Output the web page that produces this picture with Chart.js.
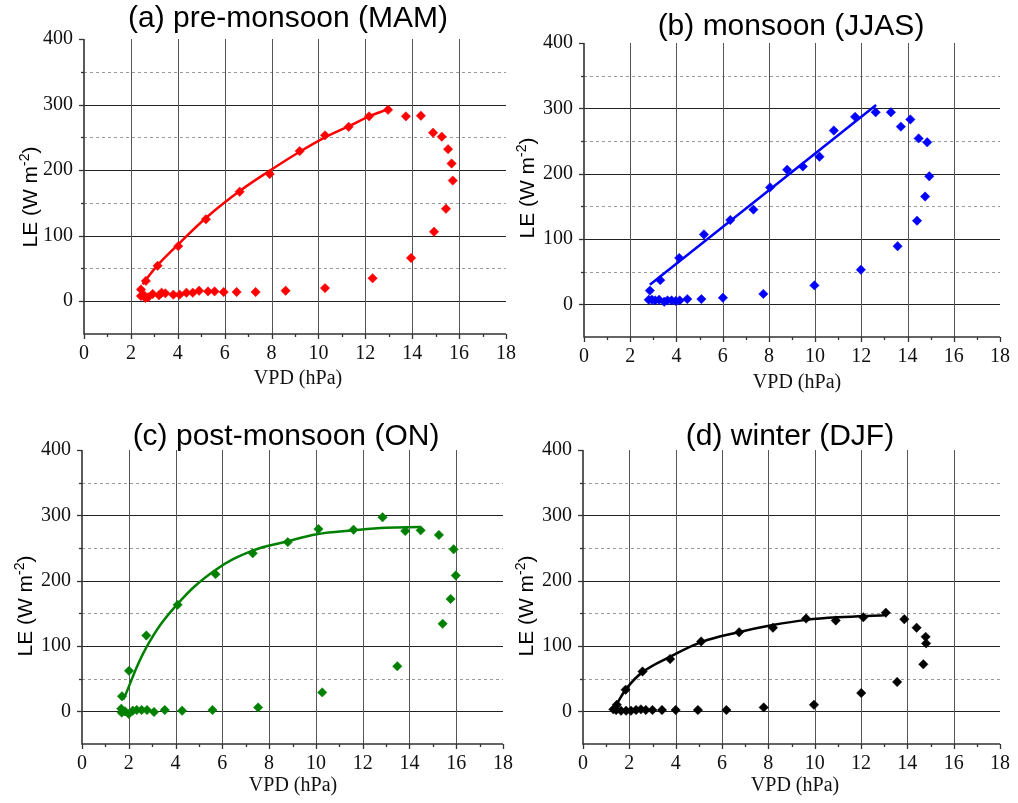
<!DOCTYPE html>
<html>
<head>
<meta charset="utf-8">
<script src="https://cdn.jsdelivr.net/npm/chart.js@4.4.0/dist/chart.umd.min.js"></script>
<style>
  html, body { margin: 0; background: #fff; }
  #wrap { position: relative; width: 1018px; height: 803px; }
  #wrap canvas { position: absolute; left: 0; top: 0; }
</style>
</head>
<body>
<div id="wrap">
  <canvas id="pa" width="1018" height="803"></canvas>
  <canvas id="pb" width="1018" height="803"></canvas>
  <canvas id="pc" width="1018" height="803"></canvas>
  <canvas id="pd" width="1018" height="803"></canvas>
</div>
<script>
// tick values
const xTicks = [0, 2, 4, 6, 8, 10, 12, 14, 16, 18];
const yTicks = [0, 100, 200, 300, 400];

// (a) pre-monsoon
const aX = [2.43, 2.43, 2.56, 2.62, 2.74, 2.93, 3.20, 3.31, 3.47, 3.81, 4.08, 4.37, 4.64, 4.91, 5.29, 5.57, 5.96, 6.51, 7.32, 8.60, 10.28, 12.31, 13.95, 14.93, 15.44, 15.73, 15.68, 15.53, 15.26, 14.89, 14.37, 13.73, 12.97, 12.16, 11.29, 10.28, 9.20, 7.92, 6.64, 5.20, 4.02, 3.14, 2.64];
const aY = [8, 18, 9, 5, 6, 11, 9, 13, 12, 10, 10, 13, 13, 16, 15, 15, 14, 14, 14, 16, 20, 35, 66, 106, 141, 184, 210, 232, 251, 257, 283, 282, 292, 282, 266, 253, 229, 194, 167, 125, 84, 54, 31];
const aFitX = [2.50, 3.14, 4.00, 5.20, 6.64, 7.92, 9.20, 10.28, 11.30, 12.16, 12.97];
const aFitY = [26, 55, 86, 127, 168, 199, 228, 250, 267, 282, 293];

// (b) monsoon
const bX = [2.80, 2.94, 3.08, 3.25, 3.47, 3.61, 3.79, 3.97, 4.14, 4.47, 5.08, 6.01, 7.76, 9.97, 11.98, 13.57, 14.41, 14.76, 14.94, 14.85, 14.48, 14.12, 13.71, 13.28, 12.62, 11.73, 10.81, 10.19, 9.47, 8.79, 8.05, 7.33, 6.33, 5.19, 4.12, 3.30, 2.85];
const bY = [7, 7, 6, 7, 4, 6, 6, 5, 6, 8, 8, 10, 16, 29, 53, 89, 128, 165, 196, 248, 254, 283, 272, 294, 294, 287, 266, 226, 211, 206, 179, 145, 129, 107, 71, 37, 21];
const bFitX = [2.85, 12.64];
const bFitY = [30, 305];

// (c) post-monsoon
const cX = [1.70, 1.68, 1.84, 2.00, 2.17, 2.34, 2.55, 2.78, 3.08, 3.54, 4.28, 5.58, 7.53, 10.27, 13.48, 15.42, 15.76, 15.98, 15.89, 15.26, 14.48, 13.82, 12.85, 11.61, 10.11, 8.80, 7.30, 5.71, 4.09, 2.75, 2.01, 1.71];
const cY = [-2, 4, 0, -4, 1, 2, 2, 2, -1, 2, 1, 2, 6, 29, 69, 134, 172, 208, 248, 270, 277, 276, 297, 278, 279, 259, 242, 210, 163, 116, 62, 23];
const cFitX = [1.77, 2.77, 4.05, 5.69, 7.29, 8.76, 10.04, 11.61, 13.00, 14.46];
const cFitY = [18, 99, 163, 216, 246, 260, 271, 277, 281, 282];

// (d) winter
const dX = [1.31, 1.43, 1.64, 1.86, 2.07, 2.29, 2.50, 2.71, 3.00, 3.41, 4.00, 4.96, 6.19, 7.80, 9.97, 12.01, 13.56, 14.69, 14.81, 14.79, 14.40, 13.87, 13.07, 12.10, 10.91, 9.63, 8.20, 6.74, 5.10, 3.76, 2.57, 1.84, 1.46];
const dY = [3, 2, 1, 1, 1, 2, 3, 2, 2, 2, 2, 2, 2, 6, 10, 28, 45, 72, 104, 114, 128, 141, 151, 144, 139, 142, 128, 121, 107, 80, 61, 33, 10];
const dFitX = [1.33, 1.86, 2.57, 3.79, 5.11, 6.71, 8.19, 9.64, 11.00, 13.00];
const dFitY = [3, 34, 60, 84, 106, 121, 132, 140, 144, 147];

const SANS = '"Liberation Sans", Arial, sans-serif';
const SERIF = '"Liberation Serif", "Times New Roman", serif';

// page layout of each panel: plot area [left, top, right, bottom] and text spots
const panels = {
  pa: { title: '(a) pre-monsoon (MAM)', color: '#ff0000', x: aX, y: aY, fx: aFitX, fy: aFitY,
        area: [84, 39, 506, 334], tPos: [288, 27], xl: [298, 379], yl: [37, 197] },
  pb: { title: '(b) monsoon (JJAS)', color: '#0000ff', x: bX, y: bY, fx: bFitX, fy: bFitY,
        area: [584, 43, 1005, 337], tPos: [791, 35], xl: [797, 383], yl: [534, 188] },
  pc: { title: '(c) post-monsoon (ON)', color: '#008000', x: cX, y: cY, fx: cFitX, fy: cFitY,
        area: [82, 450, 503, 744], tPos: [286, 445], xl: [293, 786], yl: [32, 606] },
  pd: { title: '(d) winter (DJF)', color: '#000000', x: dX, y: dY, fx: dFitX, fy: dFitY,
        area: [583, 450, 1004, 744], tPos: [790, 445], xl: [795, 786], yl: [533, 606] }
};

function pts(xs, ys) {
  return xs.map(function (v, i) { return { x: v, y: ys[i] }; });
}

function hLine(ctx, y, x1, x2) {
  y = Math.round(y) + 0.5;
  ctx.beginPath(); ctx.moveTo(x1, y); ctx.lineTo(x2, y); ctx.stroke();
}
function vLine(ctx, x, y1, y2) {
  x = Math.round(x) + 0.5;
  ctx.beginPath(); ctx.moveTo(x, y1); ctx.lineTo(x, y2); ctx.stroke();
}

// grid, axis lines, tick marks and texts
const decor = {
  id: 'decor',
  beforeDatasetsDraw: function (chart) {
    const ctx = chart.ctx, xs = chart.scales.x, ys = chart.scales.y, a = chart.chartArea;
    ctx.save();
    ctx.lineWidth = 1;
    ctx.strokeStyle = '#9a9a9a';
    ctx.setLineDash([3, 3]);
    [50, 150, 250, 350].forEach(function (v) { hLine(ctx, ys.getPixelForValue(v), a.left, a.right); });
    ctx.setLineDash([]);
    ctx.strokeStyle = '#222';
    [0, 100, 200, 300].forEach(function (v) { hLine(ctx, ys.getPixelForValue(v), a.left, a.right); });
    ctx.strokeStyle = '#555';
    [2, 4, 6, 8, 10, 12, 14, 16].forEach(function (v) { vLine(ctx, xs.getPixelForValue(v), a.top, a.bottom); });

    // axes
    ctx.strokeStyle = '#333';
    ctx.lineWidth = 1.6;
    ctx.beginPath();
    ctx.moveTo(a.left, a.top); ctx.lineTo(a.left, a.bottom); ctx.lineTo(a.right, a.bottom);
    ctx.stroke();
    ctx.lineWidth = 1.3;
    for (let v = 0; v <= 400; v += 50) {
      const py = Math.round(ys.getPixelForValue(v)) + 0.5;
      ctx.beginPath(); ctx.moveTo(a.left - (v % 100 ? 3 : 5), py); ctx.lineTo(a.left, py); ctx.stroke();
    }
    for (let v = 0; v <= 18; v += 1) {
      const px = Math.round(xs.getPixelForValue(v)) + 0.5;
      ctx.beginPath(); ctx.moveTo(px, a.bottom); ctx.lineTo(px, a.bottom + (v % 2 ? 3 : 5)); ctx.stroke();
    }
    ctx.restore();
  },
  afterDraw: function (chart) {
    const p = panels[chart.canvas.id], ctx = chart.ctx;
    ctx.save();
    ctx.fillStyle = '#000';
    ctx.textAlign = 'center';
    ctx.textBaseline = 'alphabetic';
    ctx.font = '30px ' + SANS;
    ctx.fillText(p.title, p.tPos[0], p.tPos[1]);

    ctx.fillStyle = '#111';
    ctx.textBaseline = 'middle';
    ctx.font = '20px ' + SERIF;
    ctx.fillText('VPD (hPa)', p.xl[0], p.xl[1]);

    // y title with superscript
    ctx.fillStyle = '#000';
    ctx.translate(p.yl[0], p.yl[1]);
    ctx.rotate(-Math.PI / 2);
    ctx.textAlign = 'left';
    ctx.textBaseline = 'alphabetic';
    const big = '21px ' + SANS, small = '14px ' + SANS;
    ctx.font = big;
    const w1 = ctx.measureText('LE (W m').width, w3 = ctx.measureText(')').width;
    ctx.font = small;
    const w2 = ctx.measureText('-2').width;
    let x0 = -(w1 + w2 + w3) / 2;
    ctx.font = big;
    ctx.fillText('LE (W m', x0, 0);
    ctx.font = small;
    ctx.fillText('-2', x0 + w1, -8);
    ctx.font = big;
    ctx.fillText(')', x0 + w1 + w2, 0);
    ctx.restore();
  }
};

function makeChart(id) {
  const p = panels[id];
  const yW = 70, xH = 40;
  return new Chart(document.getElementById(id), {
    type: 'scatter',
    data: {
      datasets: [{
        data: pts(p.fx, p.fy),
        showLine: true,
        borderColor: p.color,
        borderWidth: 2.5,
        pointRadius: 0,
        tension: 0.4
      }, {
        data: pts(p.x, p.y),
        pointStyle: 'rectRot',
        pointRadius: 4.7,
        backgroundColor: p.color,
        borderColor: p.color,
        borderWidth: 0.5
      }]
    },
    options: {
      responsive: false,
      animation: false,
      events: [],
      layout: {
        padding: { left: p.area[0] - yW, top: p.area[1], right: 1018 - p.area[2], bottom: 803 - p.area[3] - xH }
      },
      plugins: { legend: { display: false }, tooltip: { enabled: false } },
      scales: {
        x: {
          type: 'linear', min: 0, max: 18,
          grid: { display: false, drawTicks: false },
          border: { display: false },
          afterBuildTicks: function (s) { s.ticks = xTicks.map(function (v) { return { value: v }; }); },
          afterFit: function (s) { s.height = xH; },
          ticks: { padding: 8, maxRotation: 0, autoSkip: false, color: '#111', font: { family: SERIF, size: 20 } }
        },
        y: {
          type: 'linear', min: -50, max: 400,
          grid: { display: false, drawTicks: false },
          border: { display: false },
          afterBuildTicks: function (s) { s.ticks = yTicks.map(function (v) { return { value: v }; }); },
          afterFit: function (s) { s.width = yW; },
          ticks: { padding: 11, autoSkip: false, color: '#111', font: { family: SERIF, size: 20 } }
        }
      }
    },
    plugins: [decor]
  });
}

makeChart('pa');
makeChart('pb');
makeChart('pc');
makeChart('pd');
</script>
</body>
</html>
